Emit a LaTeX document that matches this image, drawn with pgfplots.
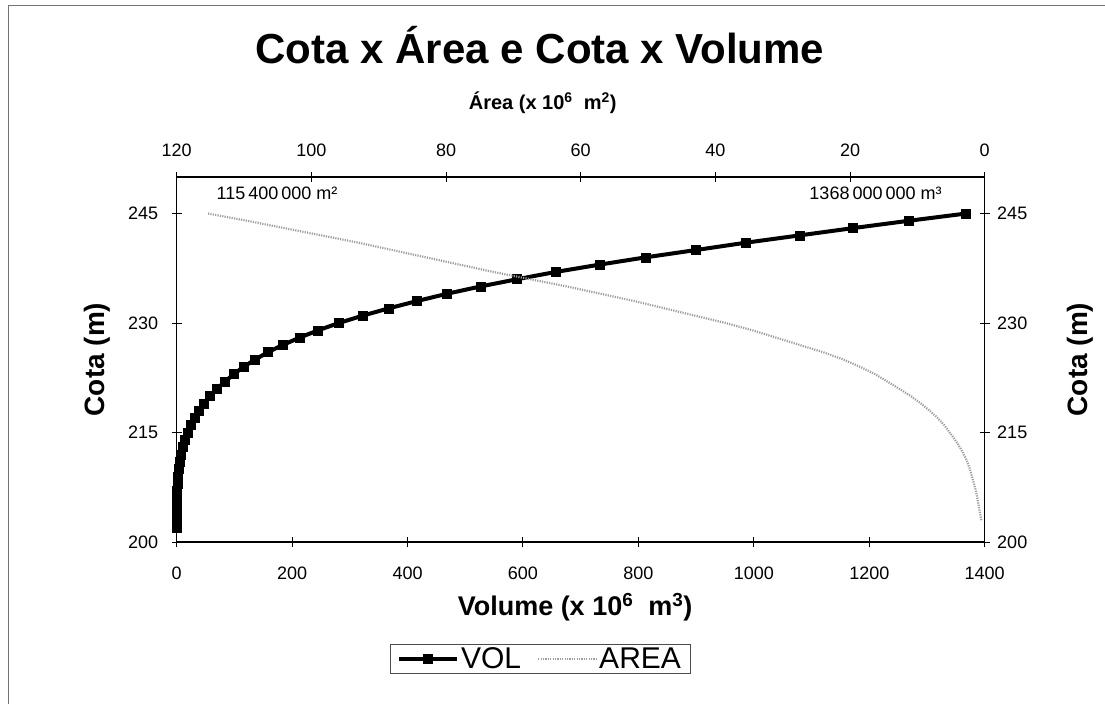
\documentclass[border=0pt]{standalone}
\usepackage{fontspec}
\setmainfont{Liberation Sans}
\usepackage{pgfplots}
\usepackage{pgfplotstable}
\pgfplotsset{compat=1.18}

% Curva cota x volume (x 10^6 m3)
\pgfplotstableread{
cota vol
202 0
203 0.01
204 0.05
205 0.15
206 0.35
207 0.7
208 1.3
209 2.2
210 3.5
211 5.2
212 7.5
213 10.5
214 14
215 19
216 24
217 31
218 38
219 47
220 58
221 70
222 84
223 99
224 116
225 136
226 158
227 184
228 213
229 245
230 281
231 322
232 367
233 416
234 468
235 526
236 590
237 657
238 733
239 813
240 900
241 986
242 1079
243 1172
244 1268
245 1368
}\voltable

% Curva cota x area (x 10^6 m2)
\pgfplotstableread{
cota area
203 0.5
204 0.7
205 0.9
206 1.1
207 1.3
208 1.6
209 1.9
210 2.2
211 2.6
212 3.1
213 3.7
214 4.4
215 5.2
216 6.0
217 7.0
218 8.2
219 9.5
220 11
221 12.7
222 14.5
223 16.3
224 18.5
225 21
226 24
227 27.5
228 31
229 34.5
230 38.5
231 43
232 47.5
233 52
234 57
235 62
236 67.5
237 73
238 78
239 83
240 88
241 93
242 98.5
243 104
244 109.5
245 115.4
}\areatable

\tikzset{
  volstyle/.style={black, line width=4pt, mark=square*, mark size=4.5pt,
    mark options={solid, line width=0.5pt, fill=black}},
  areastyle/.style={black!38, line width=2.2pt, dash pattern=on 1.2pt off 1.2pt}
}

\pgfplotsset{
  common/.style={
    width=808pt, height=365pt, scale only axis,
    at={(176.7pt,-542pt)}, anchor=south west,
    ymin=200, ymax=250,
    ytick={200,215,230,245},
    axis line style={line width=1.2pt},
    major tick style={line width=1pt, black},
    major tick length=10pt,
    tick align=center,
    tick label style={font=\fontsize{18}{20}\selectfont},
    /pgf/number format/assume math mode=true,
    /pgf/number format/1000 sep={},
  }
}

\begin{document}
\begin{tikzpicture}[x=1pt,y=1pt]
\path[use as bounding box] (0,0) rectangle (1105,-704);
\draw[black!55, line width=1pt] (8,-704) -- (8,-5) -- (1105,-5);
\node[font=\fontsize{42}{48}\selectfont\bfseries] at (540,-45) {Cota x Área e Cota x Volume};

% Eixo inferior/esquerdo: volume
\begin{axis}[
  common,
  xmin=0, xmax=1400,
  xtick={0,200,...,1400},
  xtick pos=left, ytick pos=left,
  xticklabel style={yshift=-16pt},
  yticklabel style={xshift=-10pt},
  xlabel={Volume (x 10\textsuperscript{6}\ \ m\textsuperscript{3})},
  xlabel style={at={(axis description cs:0.493,-0.178)}, anchor=center,
    font=\fontsize{27}{30}\selectfont\bfseries},
  ylabel={Cota (m)},
  ylabel style={at={(axis description cs:-0.0986,0.5)}, anchor=center, rotate=0,
    font=\fontsize{28}{30}\selectfont\bfseries},
  legend columns=2,
  legend style={at={(axis description cs:0.4496,-0.3205)}, anchor=center,
    font=\fontsize{30}{32}\selectfont, draw=black!70, line width=0.8pt,
    inner xsep=7pt, inner ysep=1pt,
    /tikz/every even column/.append style={column sep=14pt}},
  legend image code/.code={\draw[mark repeat=2, mark phase=2, #1]
    plot coordinates {(0pt,0pt) (29pt,0pt) (58pt,0pt)};},
]
\addplot[volstyle] table[x=vol, y=cota] {\voltable};
\addlegendentry{VOL}
\addlegendimage{areastyle}
\addlegendentry{AREA}
\node[anchor=west, font=\fontsize{18}{20}\selectfont] at (rel axis cs:0.045,0.956) {115\,400\,000 m²};
\node[anchor=east, font=\fontsize{18}{20}\selectfont] at (rel axis cs:0.951,0.956) {1368\,000\,000 m³};
\end{axis}

% Eixo superior/direito: area
\begin{axis}[
  common,
  xmin=0, xmax=120, x dir=reverse,
  xtick={0,20,...,120},
  xtick pos=right, xticklabel pos=right,
  ytick pos=right, yticklabel pos=right,
  xticklabel style={yshift=12pt},
  yticklabel style={xshift=4pt},
  xlabel={Área (x 10\textsuperscript{6}\ \ m\textsuperscript{2})},
  xlabel style={at={(axis description cs:0.453,1.203)}, anchor=center,
    font=\fontsize{20}{24}\selectfont\bfseries},
  ylabel={Cota (m)},
  ylabel style={at={(axis description cs:1.118,0.5)}, anchor=center, rotate=0,
    font=\fontsize{28}{30}\selectfont\bfseries},
]
\addplot[areastyle] table[x=area, y=cota] {\areatable};
\end{axis}
\end{tikzpicture}
\end{document}
